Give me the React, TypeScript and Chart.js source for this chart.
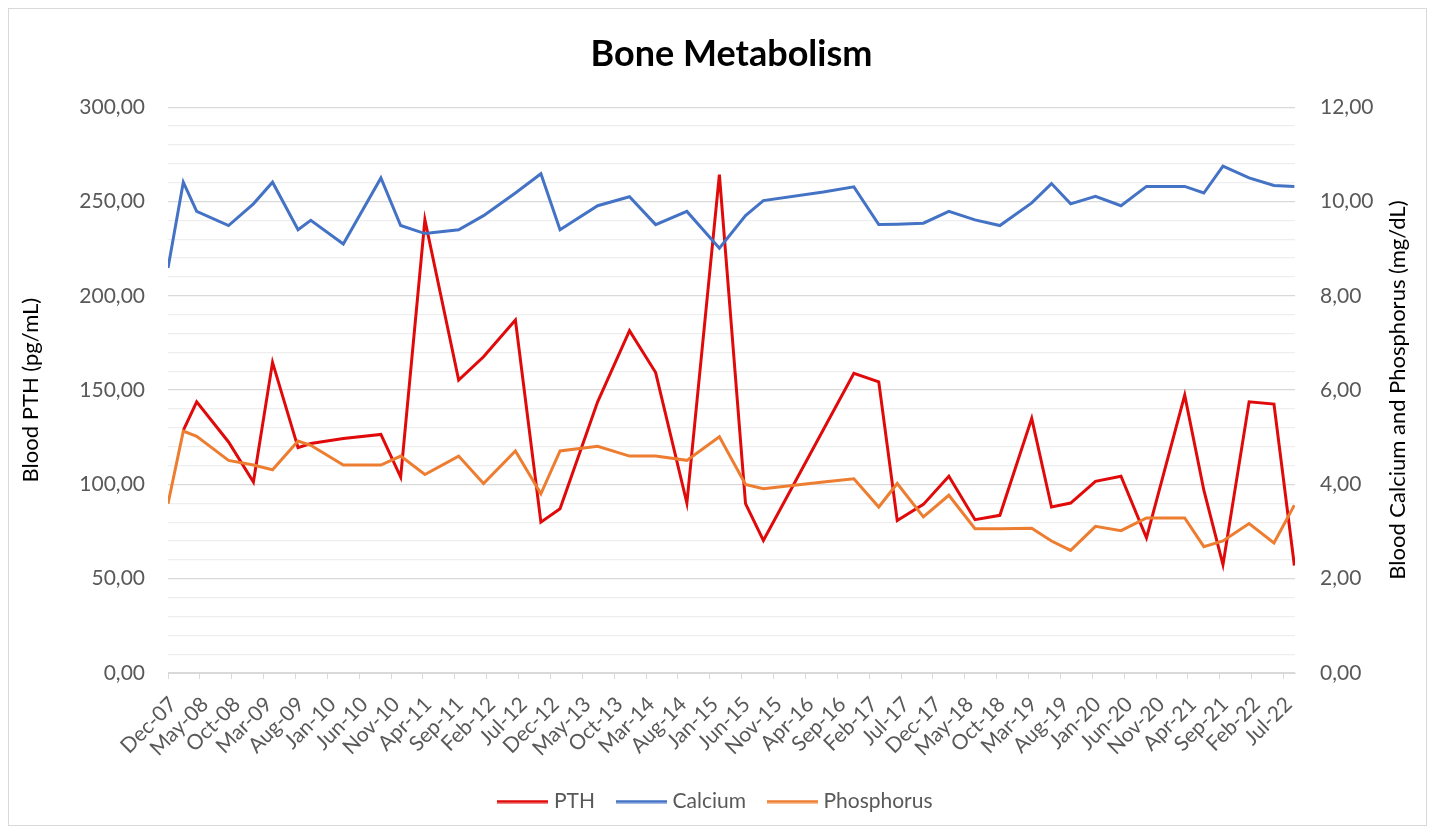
import React, { useEffect, useRef } from 'react';
import { Chart, registerables } from 'chart.js';

Chart.register(...registerables);

// ---- Data ----
const xTickLabels = [
  'Dec-07', 'May-08', 'Oct-08', 'Mar-09', 'Aug-09', 'Jan-10', 'Jun-10', 'Nov-10', 'Apr-11',
  'Sep-11', 'Feb-12', 'Jul-12', 'Dec-12', 'May-13', 'Oct-13', 'Mar-14', 'Aug-14', 'Jan-15',
  'Jun-15', 'Nov-15', 'Apr-16', 'Sep-16', 'Feb-17', 'Jul-17', 'Dec-17', 'May-18', 'Oct-18',
  'Mar-19', 'Aug-19', 'Jan-20', 'Jun-20', 'Nov-20', 'Apr-21', 'Sep-21', 'Feb-22', 'Jul-22',
];

// sample dates as months elapsed since Dec-07
const monthOffsets = [
  0, 2.4, 4.5, 9.5, 13.4, 16.4, 20.4, 22.4, 27.5, 33.4, 36.5, 40.3, 45.6, 49.5, 54.5,
  58.5, 61.5, 67.4, 72.4, 76.5, 81.4, 86.5, 90.6, 93.4, 102.8, 107.6, 111.5, 114.4,
  118.5, 122.5, 126.6, 130.5, 135.5, 138.6, 141.6, 145.5, 149.5, 153.5, 159.5, 162.5,
  165.5, 169.6, 173.5, 176.7,
];

const pthValues: (number | null)[] = [
  null, 128.7, 143.8, 122.5, 101.3, 164.7, 119.5, 121.7, 124.3, 126.5, 103.9, 240.3,
  155.3, 167.7, 187.2, 80.0, 87.1, 143.8, 181.5, 159.3, 90.1, 264.2, 89.8, 70.3, 129.0,
  158.9, 154.4, 80.9, 89.4, 104.3, 81.3, 83.6, 135.0, 88.0, 90.1, 101.6, 104.3, 71.7,
  147.3, 96.9, 57.4, 143.8, 142.6, 57.0,
];

const calciumValues = [
  8.59, 10.41, 9.79, 9.49, 9.95, 10.41, 9.40, 9.60, 9.10, 10.50, 9.49, 9.32, 9.40, 9.70,
  10.18, 10.59, 9.40, 9.91, 10.10, 9.51, 9.79, 9.01, 9.70, 10.02, 10.20, 10.31, 9.51,
  9.52, 9.54, 9.79, 9.61, 9.49, 9.97, 10.38, 9.95, 10.11, 9.91, 10.32, 10.32, 10.18,
  10.75, 10.50, 10.34, 10.32,
];

const phosphorusValues = [
  3.59, 5.13, 5.02, 4.51, 4.41, 4.31, 4.92, 4.83, 4.41, 4.41, 4.60, 4.21, 4.60, 4.02,
  4.71, 3.80, 4.71, 4.81, 4.60, 4.60, 4.51, 5.01, 4.00, 3.91, 4.05, 4.12, 3.52, 4.02,
  3.31, 3.77, 3.06, 3.06, 3.07, 2.80, 2.60, 3.11, 3.02, 3.29, 3.29, 2.68, 2.80, 3.17,
  2.76, 3.56,
];

const FONT = 'Lato, "Open Sans", sans-serif';
const TICK_COLOR = '#595959';
const PTH_COLOR = '#e10a0a';
const CA_COLOR = '#4472c4';
const P_COLOR = '#ed7d31';

const fmt = (v: number) => v.toFixed(2).replace('.', ',');

const toPoints = (vals: (number | null)[]) =>
  monthOffsets
    .map((x, i) => ({ x, y: vals[i] }))
    .filter((p) => p.y !== null && p.y !== undefined);

// legend swatch: a short thick line
const makeSwatch = (color: string) => {
  const c = document.createElement('canvas');
  c.width = 51;
  c.height = 4;
  const g = c.getContext('2d')!;
  g.fillStyle = color;
  g.fillRect(0, 0.5, 51, 3);
  return c;
};

const framePlugin = {
  id: 'frame',
  beforeDraw(chart: any) {
    const { ctx, width, height } = chart;
    ctx.save();
    ctx.fillStyle = '#ffffff';
    ctx.fillRect(0, 0, width, height);
    ctx.strokeStyle = '#d9d9d9';
    ctx.lineWidth = 1;
    ctx.strokeRect(0.5, 0.5, width - 1, height - 1);
    ctx.restore();
  },
};

const axisTitlesPlugin = {
  id: 'axisTitles',
  afterDraw(chart: any) {
    const { ctx, chartArea } = chart;
    const cy = (chartArea.top + chartArea.bottom) / 2;
    const draw = (text: string, x: number) => {
      ctx.save();
      ctx.fillStyle = '#000000';
      ctx.font = `22px ${FONT}`;
      ctx.textAlign = 'center';
      ctx.textBaseline = 'middle';
      ctx.translate(x, cy);
      ctx.rotate(-Math.PI / 2);
      ctx.fillText(text, 0, 0);
      ctx.restore();
    };
    draw('Blood PTH (pg/mL)', 23);
    draw('Blood Calcium and Phosphorus (mg/dL)', chartArea.right + 103);
  },
};

export default function App() {
  const ref = useRef<HTMLCanvasElement>(null);

  useEffect(() => {
    if (!ref.current) return;
    const chart = new Chart(ref.current, {
      type: 'line',
      data: {
        datasets: [
          {
            label: 'PTH',
            data: toPoints(pthValues),
            borderColor: PTH_COLOR,
            backgroundColor: PTH_COLOR,
            borderWidth: 3,
            pointRadius: 0,
            pointStyle: makeSwatch(PTH_COLOR),
            tension: 0,
            yAxisID: 'y',
            order: 3,
          },
          {
            label: 'Calcium',
            data: toPoints(calciumValues),
            borderColor: CA_COLOR,
            backgroundColor: CA_COLOR,
            borderWidth: 3,
            pointRadius: 0,
            pointStyle: makeSwatch(CA_COLOR),
            tension: 0,
            yAxisID: 'y1',
            order: 2,
          },
          {
            label: 'Phosphorus',
            data: toPoints(phosphorusValues),
            borderColor: P_COLOR,
            backgroundColor: P_COLOR,
            borderWidth: 3,
            pointRadius: 0,
            pointStyle: makeSwatch(P_COLOR),
            tension: 0,
            yAxisID: 'y1',
            order: 1,
          },
        ],
      },
      options: {
        animation: false,
        responsive: false,
        maintainAspectRatio: false,
        layout: { padding: { left: 0, right: 0, top: 0, bottom: 4 } },
        plugins: {
          title: {
            display: true,
            fullSize: false,
            text: 'Bone Metabolism',
            color: '#000000',
            font: { family: FONT, size: 36, weight: 'bold' },
            padding: { top: 25, bottom: 31 },
          },
          legend: {
            position: 'bottom',
            labels: {
              usePointStyle: true,
              pointStyleWidth: 41,
              color: TICK_COLOR,
              font: { family: FONT, size: 21 },
              padding: 26,
              sort: (a: any, b: any) => a.datasetIndex - b.datasetIndex,
            },
          },
          tooltip: { enabled: false },
        },
        scales: {
          x: {
            type: 'linear',
            min: 0,
            max: 176.8,
            afterFit(scale: any) {
              scale.height = 92;
            },
            grid: { drawOnChartArea: false, color: '#d9d9d9', tickLength: 6 },
            border: { color: '#d9d9d9', width: 1 },
            ticks: {
              stepSize: 5,
              includeBounds: false,
              autoSkip: false,
              maxRotation: 45,
              minRotation: 45,
              padding: 13,
              labelOffset: 5,
              color: TICK_COLOR,
              font: { family: FONT, size: 21 },
              callback: (v: any) => xTickLabels[Math.round(Number(v) / 5)] ?? '',
            },
          },
          y: {
            position: 'left',
            min: 0,
            max: 300,
            afterFit(scale: any) {
              scale.width = 160;
            },
            grid: {
              drawTicks: false,
              color: (c: any) => (Math.round(c.tick.value) % 50 === 0 ? '#d9d9d9' : '#eeeeee'),
              lineWidth: 1.2,
            },
            border: { display: false },
            ticks: {
              stepSize: 10,
              autoSkip: false,
              padding: 23,
              color: TICK_COLOR,
              font: { family: FONT, size: 21 },
              callback: (v: any) => (Math.round(Number(v)) % 50 === 0 ? fmt(Number(v)) : ''),
            },
          },
          y1: {
            position: 'right',
            min: 0,
            max: 12,
            afterFit(scale: any) {
              scale.width = 132;
            },
            grid: { display: false, drawTicks: false },
            border: { display: false },
            ticks: {
              stepSize: 2,
              padding: 25,
              color: TICK_COLOR,
              font: { family: FONT, size: 21 },
              callback: (v: any) => fmt(Number(v)),
            },
          },
        },
      },
      plugins: [framePlugin, axisTitlesPlugin],
    } as any);
    return () => chart.destroy();
  }, []);

  return (
    <canvas
      ref={ref}
      width={1419}
      height={818}
      style={{ display: 'block', width: 1419, height: 818 }}
    />
  );
}
